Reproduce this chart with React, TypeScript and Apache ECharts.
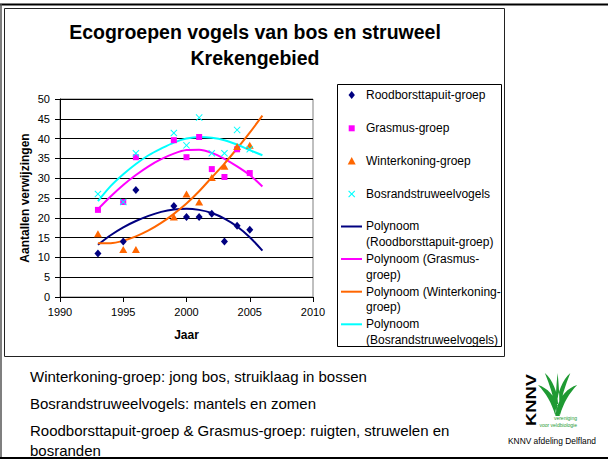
import React, { useEffect, useRef } from "react";
import * as echarts from "echarts";

// ---- data ----
const years = [1993, 1995, 1996, 1999, 2000, 2001, 2002, 2003, 2004, 2005];
const roodborst = [11, 14, 27, 23, 20.2, 20.2, 21, 14, 18, 17];
const grasmus = [22, 24, 35.3, 39.6, 35.3, 40.4, 32.3, 30.3, 37.3, 31.3];
const winterkoning = [16, 12, 12, 20.2, 26, 24, 30.2, 33, 38, 38.3];
const bosrand = [26, 24, 36.3, 41.4, 38.3, 45.3, 36.3, 36.3, 42.2, 37.3];

const trendYears = [1993, 1994, 1995, 1996, 1997, 1998, 1999, 2000, 2001, 2002, 2003, 2004, 2005, 2006];
const roodborstTrend = [13.2, 15.6, 17.6, 19.2, 20.5, 21.5, 22.1, 22.3, 22.0, 21.2, 19.8, 17.8, 15.1, 11.7];
const grasmusTrend = [22.2, 25.4, 28.3, 30.8, 33.0, 34.8, 36.2, 37.1, 37.2, 36.4, 34.9, 33.0, 30.8, 27.9];
const winterkoningTrend = [13.6, 13.6, 14.2, 15.3, 16.8, 18.7, 21.0, 23.6, 26.7, 30.2, 33.7, 37.5, 41.5, 45.8];
const bosrandTrend = [24.2, 28.0, 31.0, 33.6, 35.8, 37.5, 39.0, 40.0, 40.4, 40.2, 39.6, 38.5, 37.1, 35.8];

const seriesNames = ["Roodborsttapuit-groep", "Grasmus-groep", "Winterkoning-groep", "Bosrandstruweelvogels"];
const trendNames = [
  "Polynoom (Roodborsttapuit-groep)",
  "Polynoom (Grasmus-groep)",
  "Polynoom (Winterkoning-groep)",
  "Polynoom (Bosrandstruweelvogels)",
];
const trendLegendLabels = [
  "Polynoom\n(Roodborsttapuit-groep)",
  "Polynoom (Grasmus-\ngroep)",
  "Polynoom (Winterkoning-\ngroep)",
  "Polynoom\n(Bosrandstruweelvogels)",
];
const colors = ["#000080", "#FF00FF", "#FF6600", "#00FFFF"];

const titleLines = ["Ecogroepen vogels van bos en struweel", "Krekengebied"];
const xAxisTitle = "Jaar";
const yAxisTitle = "Aantallen verwijzingen";
const notes = [
  "Winterkoning-groep: jong bos, struiklaag in bossen",
  "Bosrandstruweelvogels: mantels en zomen",
  "Roodborsttapuit-groep & Grasmus-groep: ruigten, struwelen en\nbosranden",
];
const logoCaption = "KNNV afdeling Delfland";

const FONT = '"Liberation Sans", Arial, sans-serif';
const X_SYMBOL = "path://M1,0 L5,4 L9,0 L10,1 L6,5 L10,9 L9,10 L5,6 L1,10 L0,9 L4,5 L0,1 Z";

const PLANT =
  "M17.5,42 C14,30 8,20 0,12 C10,15 17,23 20,33 Z " +
  "M18.5,38 C16,24 12,12 7,0 C15,7 20,19 20.5,31 Z " +
  "M18.3,34 C18,20 19,10 20,0 C21,10 22,20 21.7,34 Z " +
  "M21.5,38 C24,24 28,12 33,0 C25,7 20,19 19.5,31 Z " +
  "M22.5,42 C26,30 32,20 40,12 C30,15 23,23 20,33 Z " +
  "M17.8,43 L22.2,43 L21.8,31 L18.2,31 Z";

let registered = false;
function registerShapes() {
  if (registered) return;
  registered = true;
  echarts.graphic.registerShape("knnvPlant", echarts.graphic.extendPath(PLANT, {}));
}

function xPolygon(cx: number, cy: number, r: number, t: number) {
  const pts: number[][] = [
    [-r, -r + t], [-r + t, -r], [0, -t], [r - t, -r], [r, -r + t], [t, 0],
    [r, r - t], [r - t, r], [0, t], [-r + t, r], [-r, r - t], [-t, 0],
  ];
  return pts.map(([x, y]) => [cx + x, cy + y]);
}

function markerGraphic(i: number, cx: number, cy: number) {
  const c = colors[i];
  if (i === 0)
    return { type: "polygon", shape: { points: [[cx, cy - 4], [cx + 3.2, cy], [cx, cy + 4], [cx - 3.2, cy]] }, style: { fill: c } };
  if (i === 1) return { type: "rect", shape: { x: cx - 3, y: cy - 3, width: 6, height: 6 }, style: { fill: c } };
  if (i === 2)
    return { type: "polygon", shape: { points: [[cx, cy - 4], [cx + 4, cy + 3.5], [cx - 4, cy + 3.5]] }, style: { fill: c } };
  return { type: "polygon", shape: { points: xPolygon(cx, cy, 3.5, 0.8) }, style: { fill: c } };
}

export default function App() {
  const ref = useRef<HTMLDivElement>(null);

  useEffect(() => {
    if (!ref.current) return;
    registerShapes();
    const chart = echarts.init(ref.current, undefined, { renderer: "svg" });

    const pts = (vals: number[]) => years.map((y, i) => [y, vals[i]]);
    const tpts = (vals: number[]) => trendYears.map((y, i) => [y, vals[i]]);
    const scatterData = [roodborst, grasmus, winterkoning, bosrand];
    const trendData = [roodborstTrend, grasmusTrend, winterkoningTrend, bosrandTrend];
    const symbols = ["diamond", "rect", "triangle", X_SYMBOL];
    const sizes: any[] = [[7, 8], 6, [8, 7], 7];

    const series: any[] = [];
    trendData.forEach((d, i) => {
      series.push({
        name: trendNames[i],
        type: "line",
        data: tpts(d),
        smooth: 0.3,
        showSymbol: false,
        lineStyle: { color: colors[i], width: 2 },
        itemStyle: { color: colors[i] },
        z: 2,
      });
    });
    scatterData.forEach((d, i) => {
      series.push({
        name: seriesNames[i],
        type: "scatter",
        data: pts(d),
        symbol: symbols[i],
        symbolSize: sizes[i],
        itemStyle: { color: colors[i], opacity: 1 },
        z: 3,
      });
    });

    // legend drawn as graphics
    const legend: any[] = [
      { type: "rect", shape: { x: 337.5, y: 84.5, width: 164, height: 262 }, style: { fill: "none", stroke: "#000", lineWidth: 1 } },
    ];
    const markerYs = [95, 128.3, 161, 194];
    seriesNames.forEach((n, i) => {
      legend.push(markerGraphic(i, 351.7, markerYs[i]));
      legend.push({ type: "text", x: 366, y: markerYs[i], style: { text: n, font: `12px ${FONT}`, fill: "#000", verticalAlign: "middle" } });
    });
    const lineYs = [226.5, 259, 291.7, 324.3];
    trendLegendLabels.forEach((n, i) => {
      legend.push({ type: "line", shape: { x1: 341, y1: lineYs[i], x2: 362, y2: lineYs[i] }, style: { stroke: colors[i], lineWidth: 2 } });
      legend.push({
        type: "text",
        x: 366,
        y: lineYs[i] - 7.85,
        style: { text: n, font: `12px ${FONT}`, fill: "#000", lineHeight: 15.7, verticalAlign: "top" },
      });
    });

    const noteYs = [376, 403, 430];
    const notesG: any[] = notes.map((t, i) => ({
      type: "text",
      x: 30,
      y: noteYs[i] - 10,
      style: { text: t, font: `15px ${FONT}`, fill: "#000", lineHeight: 20, verticalAlign: "top" },
    }));

    const logo: any[] = [
      {
        type: "text",
        x: 531.5,
        y: 400,
        rotation: Math.PI / 2,
        scaleX: 1.22,
        style: { text: "KNNV", font: `bold 15px ${FONT}`, fill: "#000", align: "center", verticalAlign: "middle" },
      },
      { type: "knnvPlant", x: 538, y: 373, scaleX: 0.98, scaleY: 1.0, style: { fill: "#1f9a33" } },
      { type: "text", x: 577, y: 418, style: { text: "vereniging", font: `5px ${FONT}`, fill: "#1f9a33", align: "right", verticalAlign: "middle" } },
      { type: "text", x: 577, y: 425, style: { text: "voor veldbiologie", font: `5px ${FONT}`, fill: "#1f9a33", align: "right", verticalAlign: "middle" } },
      { type: "text", x: 552, y: 441, style: { text: logoCaption, font: `8.4px ${FONT}`, fill: "#000", align: "center", verticalAlign: "middle" } },
    ];

    const frames: any[] = [
      { type: "line", shape: { x1: 0, y1: 4.5, x2: 608, y2: 4.5 }, style: { stroke: "#000", lineWidth: 2 } },
      { type: "line", shape: { x1: 1, y1: 4, x2: 1, y2: 459 }, style: { stroke: "#555", lineWidth: 1.5 } },
      { type: "line", shape: { x1: 0, y1: 458, x2: 608, y2: 458 }, style: { stroke: "#000", lineWidth: 2 } },
      { type: "rect", shape: { x: 4.5, y: 8.5, width: 500, height: 348 }, style: { fill: "none", stroke: "#222", lineWidth: 1 } },
    ];

    const title: any[] = titleLines.map((t, i) => ({
      type: "text",
      x: 255,
      y: 32 + i * 26,
      style: { text: t, font: `bold 19.5px ${FONT}`, fill: "#000", align: "center", verticalAlign: "middle" },
    }));

    chart.setOption({
      animation: false,
      backgroundColor: "#fff",
      textStyle: { fontFamily: FONT },
      grid: { left: 60, top: 99, width: 253, height: 198, show: true, borderColor: "#808080", borderWidth: 1, backgroundColor: "#fff" },
      xAxis: {
        type: "value",
        min: 1990,
        max: 2010,
        interval: 5,
        name: xAxisTitle,
        nameLocation: "middle",
        nameGap: 32,
        nameTextStyle: { fontWeight: "bold", fontSize: 12, color: "#000", fontFamily: FONT },
        axisLine: { show: true, onZero: false, lineStyle: { color: "#000", width: 1 } },
        axisTick: { show: true, inside: false, length: 5, lineStyle: { color: "#000" } },
        axisLabel: { fontSize: 11, color: "#000", margin: 9, fontFamily: FONT, formatter: (v: number) => String(v) },
        splitLine: { show: false },
      },
      yAxis: {
        type: "value",
        min: 0,
        max: 50,
        interval: 5,
        name: yAxisTitle,
        nameLocation: "middle",
        nameRotate: 90,
        nameGap: 29,
        nameTextStyle: { fontWeight: "bold", fontSize: 12, color: "#000", fontFamily: FONT },
        axisLine: { show: true, lineStyle: { color: "#000", width: 1 } },
        axisTick: { show: true, inside: false, length: 5, lineStyle: { color: "#000" } },
        axisLabel: { fontSize: 11, color: "#000", margin: 10, fontFamily: FONT },
        splitLine: { show: true, lineStyle: { color: "#000", width: 1 } },
      },
      series,
      graphic: [...frames, ...title, ...legend, ...notesG, ...logo],
    });

    return () => chart.dispose();
  }, []);

  return (
    <div
      ref={ref}
      style={{ position: "fixed", left: 0, top: 0, width: 608, height: 461, background: "#fff" }}
    />
  );
}
